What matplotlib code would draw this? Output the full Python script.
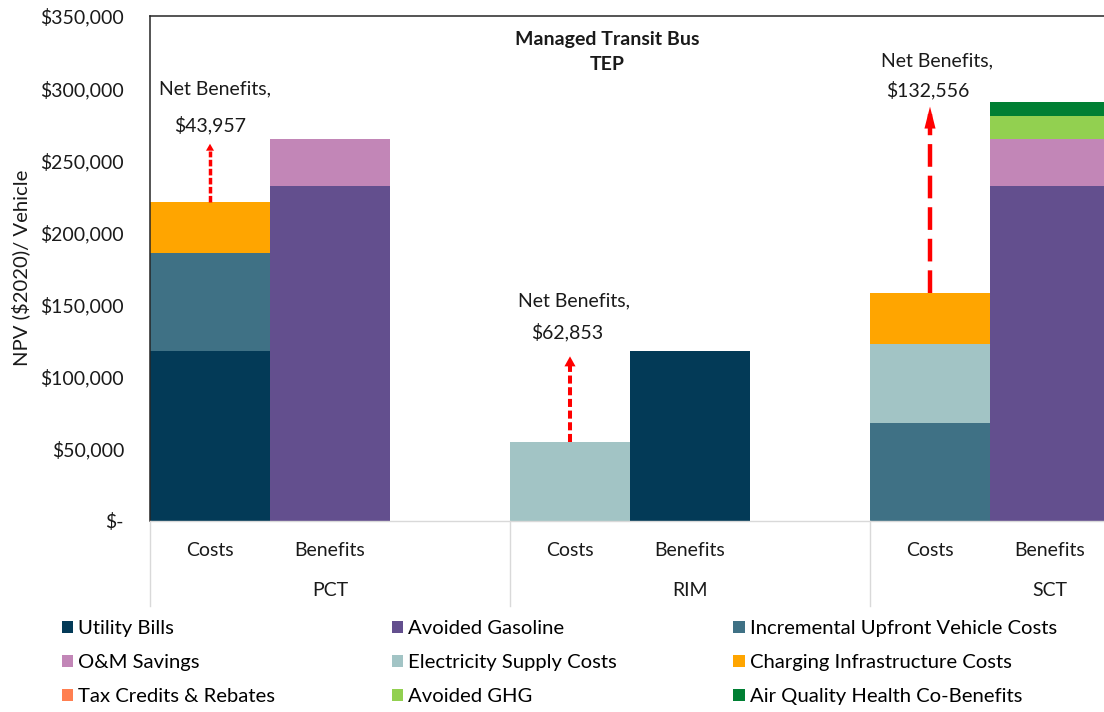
import matplotlib.pyplot as plt
from matplotlib.patches import Patch
from matplotlib.ticker import FuncFormatter
from matplotlib.transforms import blended_transform_factory

plt.rcParams['font.family'] = ['Lato', 'DejaVu Sans']

# ─── data ───
TESTS = ['PCT', 'RIM', 'SCT']
SIDES = ['Costs', 'Benefits']

SERIES = [
    'Utility Bills', 'Avoided Gasoline', 'Incremental Upfront Vehicle Costs',
    'O&M Savings', 'Electricity Supply Costs', 'Charging Infrastructure Costs',
    'Tax Credits & Rebates', 'Avoided GHG', 'Air Quality Health Co-Benefits',
]

# one value per bar: PCT costs, PCT benefits, RIM costs, RIM benefits, SCT costs, SCT benefits
utility_bills       = [117600, 0,      0,     117600, 0,     0]
avoided_gasoline    = [0,      232200, 0,     0,      0,     232200]
incremental_upfront = [68200,  0,      0,     0,      68200, 0]
om_savings          = [0,      32757,  0,     0,      0,     32757]
electricity_supply  = [0,      0,      54747, 0,      54747, 0]
charging_infra      = [35200,  0,      0,     0,      35200, 0]
tax_credits         = [0,      0,      0,     0,      0,     0]
avoided_ghg         = [0,      0,      0,     0,      0,     15450]
air_quality         = [0,      0,      0,     0,      0,     10296]

net_benefits = [43957, 62853, 132556]

VALUES = [utility_bills, avoided_gasoline, incremental_upfront, om_savings,
          electricity_supply, charging_infra, tax_credits, avoided_ghg, air_quality]
COLORS = ['#033A57', '#634F8E', '#3F7185', '#C286B7', '#A2C4C5',
          '#FFA500', '#FF7F50', '#92D050', '#007F33']

# ─── style ───
FS = 14
LEG_FS = 14.6
W, H, DPI = 1104, 712, 100
# arrow look per test: line width (pt), dash pattern, head length/width (pt),
# and pixel offsets of the two label lines from the arrow tip
ARROWS = [
    dict(lw=2.5, dash=(1.9, 0.7), head=(5.0, 2.9), val=(0, 19), ttl=(5, 55)),
    dict(lw=2.9, dash=(2.0, 0.9), head=(7.2, 4.0), val=(-3, 24), ttl=(4, 55)),
    dict(lw=3.2, dash=(5.1, 2.0), head=(15.8, 4.0), val=(-2, 17), ttl=(7, 46)),
]
ARROW_GAP = 3500
SHAFT_TRIM = 5000

fig = plt.figure(figsize=(W / DPI, H / DPI), dpi=DPI)
# plot area keeps a spare slot on the right, past the figure edge
ax = fig.add_axes([150 / W, (H - 521) / H, 1080 / W, 505 / H])

xpos = [g * 3 + s for g in range(len(TESTS)) for s in range(len(SIDES))]

bottom = [0] * len(xpos)
for name, vals, col in zip(SERIES, VALUES, COLORS):
    ax.bar(xpos, vals, width=1.0, bottom=bottom, color=col, label=name,
           linewidth=0, zorder=2)
    bottom = [b + v for b, v in zip(bottom, vals)]

ax.set_xlim(-0.5, 8.5)
ax.set_ylim(0, 350000)
ax.set_yticks(range(0, 350001, 50000))
ax.yaxis.set_major_formatter(FuncFormatter(
    lambda v, _: '$-' if v == 0 else f'${v:,.0f}'))
ax.tick_params(axis='y', length=0, pad=18.7, labelsize=FS, labelcolor='#1a1a1a')
ax.set_xticks([])

ax.spines['right'].set_visible(False)
for side in ['top', 'left']:
    ax.spines[side].set_color('#262626')
    ax.spines[side].set_linewidth(1.1)
ax.spines['bottom'].set_color('#D9D9D9')
ax.spines['bottom'].set_linewidth(1.0)

# two-level category axis
trans = blended_transform_factory(ax.transData, ax.transAxes)
for g, test in enumerate(TESTS):
    ax.plot([g * 3 - 0.5] * 2, [0, -0.168], transform=trans, clip_on=False,
            color='#D9D9D9', lw=1.0)
    for s, side in enumerate(SIDES):
        ax.annotate(side, xy=(g * 3 + s, 0), xycoords=trans,
                    xytext=(0, -29), textcoords='offset pixels',
                    ha='center', va='center', fontsize=FS, color='#1a1a1a')
    ax.annotate(test, xy=(g * 3 + 1, 0), xycoords=trans,
                xytext=(0, -70), textcoords='offset pixels',
                ha='center', va='center', fontsize=FS, color='#1a1a1a')

# net benefit arrows
for g, net in enumerate(net_benefits):
    st = ARROWS[g]
    x = g * 3
    base = bottom[g * 2]
    tip = bottom[g * 2 + 1] - ARROW_GAP
    ax.plot([x, x], [base, tip - SHAFT_TRIM], color='#FF0000', lw=st['lw'],
            linestyle=(0, st['dash']), solid_capstyle='butt',
            dash_capstyle='butt', zorder=4)
    hl, hw = st['head']
    ax.annotate('', xy=(x, tip), xytext=(x, tip - 1),
                arrowprops=dict(arrowstyle=f'-|>,head_length={hl},head_width={hw}',
                                mutation_scale=1, color='#FF0000', lw=0,
                                shrinkA=0, shrinkB=0), zorder=5)
    ax.annotate(f'${net:,.0f}', xy=(x, tip), xytext=st['val'],
                textcoords='offset pixels', ha='center', va='center',
                fontsize=FS, color='#1a1a1a')
    ax.annotate('Net Benefits,', xy=(x, tip), xytext=st['ttl'],
                textcoords='offset pixels', ha='center', va='center',
                fontsize=FS, color='#1a1a1a')

fig.text(607 / W, 1 - 40 / H, 'Managed Transit Bus', ha='center', va='center',
         fontsize=14, fontweight='bold', color='#1a1a1a')
fig.text(607 / W, 1 - 65 / H, 'TEP', ha='center', va='center',
         fontsize=14, fontweight='bold', color='#1a1a1a')
fig.text(21 / W, 1 - 268 / H, 'NPV ($2020)/ Vehicle', rotation=90,
         ha='center', va='center', fontsize=14.6, color='#1a1a1a')

# legend reads across rows, so reorder for column-major filling
handles = [Patch(facecolor=c, label=n) for n, c in zip(SERIES, COLORS)]
order = [0, 3, 6, 1, 4, 7, 2, 5, 8]
fig.legend([handles[i] for i in order], [SERIES[i] for i in order],
           ncol=3, loc='upper left', bbox_to_anchor=(62 / W, 1 - 620 / H),
           frameon=False, fontsize=LEG_FS, handlelength=0.55, handleheight=0.55,
           handletextpad=0.25, columnspacing=5.75, labelspacing=0.85,
           borderpad=0, borderaxespad=0)

fig.savefig('out.png', dpi=DPI)
